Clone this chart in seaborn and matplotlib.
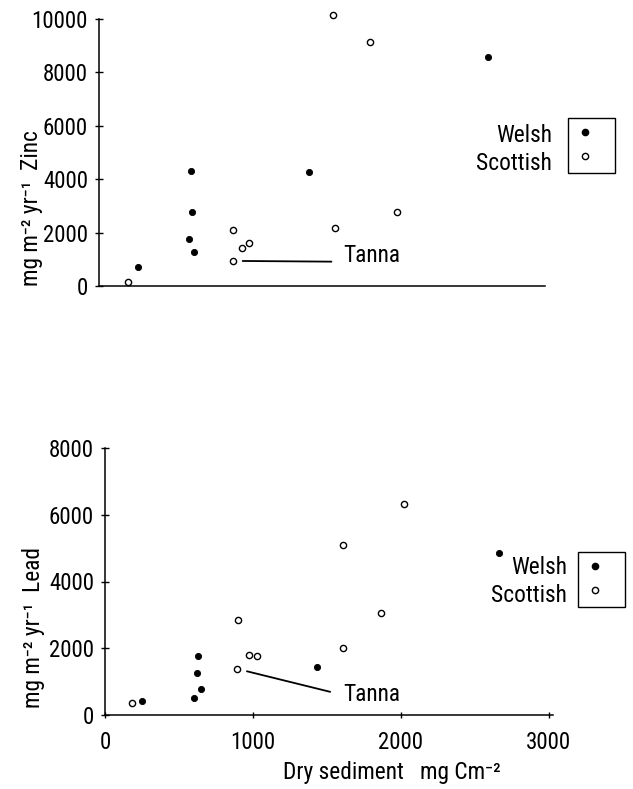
import matplotlib
matplotlib.use("Agg")
import matplotlib.pyplot as plt
from matplotlib import font_manager as fm
from matplotlib.lines import Line2D
import pandas as pd
import seaborn as sns

# Annual zinc flux against dry sediment accumulation
zinc_welsh_x = [265, 612, 626, 633, 646, 1429, 2646]
zinc_welsh_y = [710, 1760, 4310, 2770, 1270, 4270, 8580]
zinc_scot_x = [197, 910, 910, 971, 1019, 1592, 1605, 1844, 2027]
zinc_scot_y = [150, 2100, 940, 1420, 1610, 10150, 2170, 9140, 2770]

# Annual lead flux against dry sediment accumulation
lead_welsh_x = [252, 605, 619, 626, 646, 1435, 2667]
lead_welsh_y = [420, 510, 1260, 1770, 780, 1440, 4850]
lead_scot_x = [184, 898, 896, 971, 1025, 1612, 1612, 1870, 2020]
lead_scot_y = [360, 2840, 1380, 1800, 1770, 5090, 2000, 3050, 6320]

regions = ["Welsh", "Scottish"]
tanna_idx = 2  # Loch Tanna within the Scottish series
tanna_label = "Tanna"

zinc_ticks = [0, 2000, 4000, 6000, 8000, 10000]
lead_ticks = [0, 2000, 4000, 6000, 8000]
x_ticks = [0, 1000, 2000, 3000]

zinc_label = "mg m\u207b\u00b2 yr\u207b\u00b9  Zinc"
lead_label = "mg m\u207b\u00b2 yr\u207b\u00b9  Lead"
x_label = "Dry sediment   mg Cm\u207b\u00b2"


def narrow_font():
    """Find a regular narrow/condensed sans face if one is installed."""
    prefer = ["Liberation Sans Narrow", "Roboto Condensed", "Open Sans Condensed",
              "Noto Sans", "DejaVu Sans", "Open Sans", "Roboto", "Noto Sans Condensed"]
    found = []
    for e in fm.fontManager.ttflist:
        tag = (e.name + " " + e.fname).lower()
        stretch = str(e.stretch).lower()
        is_narrow = ("narrow" in tag or "condensed" in tag
                     or stretch in ("condensed", "semi-condensed", "extra-condensed"))
        if not is_narrow or "mono" in tag or "serif" in tag.replace("sans", ""):
            continue
        if e.style != "normal" or e.weight not in (400, "normal", "regular"):
            continue
        rank = prefer.index(e.name) if e.name in prefer else len(prefer)
        found.append((rank, e.name, e.stretch))
    if not found:
        return "DejaVu Sans", "normal"
    found.sort(key=lambda t: t[0])
    return found[0][1], found[0][2]


sns.set_theme(style="ticks")
FONT, STRETCH = narrow_font()
plt.rcParams["font.family"] = [FONT, "DejaVu Sans"]
plt.rcParams["font.stretch"] = STRETCH
plt.rcParams["text.color"] = "black"
plt.rcParams["xtick.color"] = "black"
plt.rcParams["ytick.color"] = "black"
plt.rcParams["axes.labelcolor"] = "black"

W, H = 633, 789
fig = plt.figure(figsize=(W / 100, H / 100), dpi=100)


def fx(px):
    return px / W


def fy(py):
    return 1 - py / H


ax1 = fig.add_axes([fx(99), fy(286), fx(545) - fx(99), fy(19) - fy(286)])
ax2 = fig.add_axes([fx(105), fy(715), fx(553) - fx(105), fy(448) - fy(715)])

TICK_FS = 16.5
TEXT_FS = 16.8


def draw_points(df_w, df_s, ax):
    sns.scatterplot(data=df_w, x="x", y="y", ax=ax, color="black",
                    edgecolor="black", s=20, linewidth=0.6, legend=False,
                    clip_on=False, zorder=3)
    sns.scatterplot(data=df_s, x="x", y="y", ax=ax, color="white",
                    edgecolor="black", s=20, linewidth=1.0, legend=False,
                    clip_on=False, zorder=3)


zw = pd.DataFrame({"x": zinc_welsh_x, "y": zinc_welsh_y})
zs = pd.DataFrame({"x": zinc_scot_x, "y": zinc_scot_y})
lw = pd.DataFrame({"x": lead_welsh_x, "y": lead_welsh_y})
ls = pd.DataFrame({"x": lead_scot_x, "y": lead_scot_y})

draw_points(zw, zs, ax1)
draw_points(lw, ls, ax2)

for ax in (ax1, ax2):
    sns.despine(ax=ax)
    ax.set_facecolor("white")
    ax.set_xlim(0, 3030)
    for side in ("left", "bottom"):
        ax.spines[side].set_color("black")
        ax.spines[side].set_linewidth(1.1)
    ax.set_xlabel("")
    ax.set_ylabel("")
    ax.tick_params(axis="y", direction="inout", length=6, width=1,
                   colors="black", labelsize=TICK_FS, pad=5)

ax1.set_ylim(0, 10000)
ax1.set_yticks(zinc_ticks)
ax1.set_xticks(x_ticks)
ax1.tick_params(axis="x", length=0, labelbottom=False)

ax2.set_ylim(0, 8000)
ax2.set_yticks(lead_ticks)
ax2.set_xticks(x_ticks)
ax2.tick_params(axis="x", direction="inout", length=5, width=1,
                colors="black", labelsize=TICK_FS, pad=9)

# Tanna leader lines
ax1.annotate(tanna_label, xy=(zinc_scot_x[tanna_idx], zinc_scot_y[tanna_idx]),
             xytext=(1658, 1124), ha="left", va="center", fontsize=TEXT_FS,
             arrowprops=dict(arrowstyle="-", color="black", lw=1.3,
                             relpos=(0, 0.25), shrinkA=6, shrinkB=7))
ax2.annotate(tanna_label, xy=(lead_scot_x[tanna_idx], lead_scot_y[tanna_idx]),
             xytext=(1609, 600), ha="left", va="center", fontsize=TEXT_FS,
             arrowprops=dict(arrowstyle="-", color="black", lw=1.3,
                             relpos=(0, 0.5), shrinkA=7, shrinkB=7))

# Axis titles
fig.text(fx(32), fy(208), zinc_label, rotation=90, ha="center", va="center",
         fontsize=TEXT_FS)
fig.text(fx(34), fy(628), lead_label, rotation=90, ha="center", va="center",
         fontsize=TEXT_FS)
fig.text(fx(283), fy(773), x_label, ha="left", va="center", fontsize=TEXT_FS)

# Legends: labels sit outside a small frame that holds only the markers
handles = [
    Line2D([], [], linestyle="none", marker="o", markersize=4.5,
           markerfacecolor="black", markeredgecolor="black"),
    Line2D([], [], linestyle="none", marker="o", markersize=4.5,
           markerfacecolor="white", markeredgecolor="black", markeredgewidth=1.0),
]


def marker_legend(ax, left_px, top_px, label_right_px, rows_px):
    leg = ax.legend(handles, ["", ""], loc="upper left",
                    bbox_to_anchor=(fx(left_px), fy(top_px)),
                    bbox_transform=fig.transFigure, frameon=True,
                    fancybox=False, edgecolor="black", framealpha=1,
                    fontsize=14, borderpad=0.35, handlelength=1.0,
                    handletextpad=0.7, labelspacing=0.3, borderaxespad=0)
    leg.get_frame().set_linewidth(1.0)
    for name, row in zip(regions, rows_px):
        fig.text(fx(label_right_px), fy(row), name, ha="right", va="center",
                 fontsize=TEXT_FS)


marker_legend(ax1, 568, 118, 552, [135, 163])
marker_legend(ax2, 578, 552, 567, [567, 595])

fig.savefig("out.png", dpi=100, facecolor="white")
